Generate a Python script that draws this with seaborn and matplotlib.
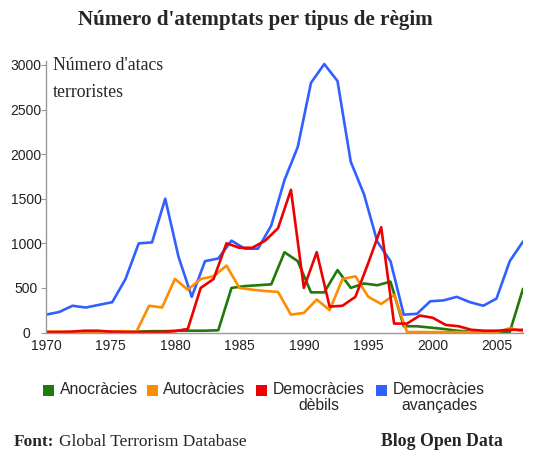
import numpy as np
import pandas as pd
import matplotlib
matplotlib.use('Agg')
import matplotlib.pyplot as plt
import seaborn as sns
from matplotlib.patches import Rectangle

# Data
# red / orange series: one value per year 1970-2007
years = list(range(1970, 2008))
democracies_febles = [5, 5, 10, 20, 20, 10, 5, 5, 5, 5, 15, 40, 500, 600, 1000, 950,
                      950, 1030, 1170, 1600, 500, 900, 290, 300, 400, 780, 1180, 100,
                      100, 190, 165, 85, 70, 30, 20, 20, 30, 30]
autocracies = [10, 10, 5, 10, 10, 10, 15, 5, 300, 280, 600, 480, 600, 630, 750, 500,
               480, 465, 455, 200, 220, 370, 250, 600, 630, 400, 320, 420,
               5, 5, 5, 5, 5, 5, 5, 5, 50, 10]

# blue / green series: 37 values spread evenly along the same axis
democracies_avancades = [200, 230, 300, 280, 310, 340, 600, 1000, 1010, 1500, 850, 400,
                         800, 830, 1030, 940, 940, 1200, 1710, 2080, 2800, 3010, 2820,
                         1915, 1550, 1020, 800, 200, 210, 350, 360, 400, 340, 300,
                         380, 800, 1020]
anocracies = [0, 0, 0, 0, 0, 2, 5, 10, 15, 15, 20, 20, 20, 25, 500, 520, 530, 540, 900,
              800, 450, 450, 700, 500, 550, 530, 570, 70, 70, 55, 40, 20, 10, 5, 5, 5, 490]
x_even = np.linspace(1970, 2007, len(anocracies))

labels = ['Anocràcies', 'Autocràcies', 'Democràcies\ndèbils', 'Democràcies\navançades']
colors = ['#1f7a0a', '#ff8c00', '#ee0000', '#3060ff']

sns.set_style('white')
plt.rcParams['font.family'] = ['Liberation Sans', 'DejaVu Sans']

W, H = 539, 462
fig = plt.figure(figsize=(W / 100, H / 100), dpi=100)
ax = fig.add_axes([46 / W, 1 - 332.5 / H, 477 / W, 272 / H])

lw = 1.9
sns.lineplot(x=x_even, y=democracies_avancades, color=colors[3], lw=lw, ax=ax)
sns.lineplot(x=x_even, y=anocracies, color=colors[0], lw=lw, ax=ax)
sns.lineplot(x=years, y=autocracies, color=colors[1], lw=lw, ax=ax)
sns.lineplot(x=years, y=democracies_febles, color=colors[2], lw=lw, ax=ax)

ax.set_xlim(1970, 2007)
ax.set_ylim(0, 3050)
ax.set_xticks([1970, 1975, 1980, 1985, 1990, 1995, 2000, 2005])
ax.set_yticks([0, 500, 1000, 1500, 2000, 2500, 3000])
ax.tick_params(axis='x', length=0, pad=5, labelsize=10, colors='#222222')
ax.tick_params(axis='y', length=3.5, width=0.8, pad=10.9, labelsize=10, colors='#222222',
               left=True, color='#999999')
# y tick labels are centred in the reference
for lab in ax.get_yticklabels():
    lab.set_horizontalalignment('center')
for side in ['top', 'right']:
    ax.spines[side].set_visible(False)
for side in ['left', 'bottom']:
    ax.spines[side].set_color('#999999')
    ax.spines[side].set_linewidth(1)
ax.set_xlabel('')
ax.set_ylabel('')

serif = ['Liberation Serif', 'DejaVu Serif']
fig.text(53 / W, 1 - 57 / H, "Número d'atacs\nterroristes",
         ha='left', va='top', fontsize=12.8, family=serif, linespacing=1.75)

fig.text(255 / W, 1 - 20 / H, "Número d'atemptats per tipus de règim",
         ha='center', va='center', fontsize=15.2, fontweight='bold', family=serif)

# legend: squares aligned with the first line of each label
sq_x = [43, 147, 256, 376]
txt_x = [60, 163, 273, 393]
for c, sx, tx, lab in zip(colors, sq_x, txt_x, labels):
    fig.patches.append(Rectangle((sx / W, 1 - 396 / H), 11 / W, 11 / H,
                                 transform=fig.transFigure, facecolor=c,
                                 edgecolor='none'))
    fig.text(tx / W, 1 - 382 / H, lab, ha='left', va='top', fontsize=11.3,
             multialignment='center', linespacing=1.1)

fig.text(14 / W, 1 - 442 / H, 'Font:', ha='left', va='center', fontsize=12.5,
         fontweight='bold', family=serif)
fig.text(59 / W, 1 - 442 / H, 'Global Terrorism Database', ha='left', va='center',
         fontsize=12.5, family=serif)
fig.text(503 / W, 1 - 442 / H, 'Blog Open Data', ha='right', va='center',
         fontsize=12.8, fontweight='bold', family=serif)

fig.savefig('out.png', dpi=100, facecolor='white')
